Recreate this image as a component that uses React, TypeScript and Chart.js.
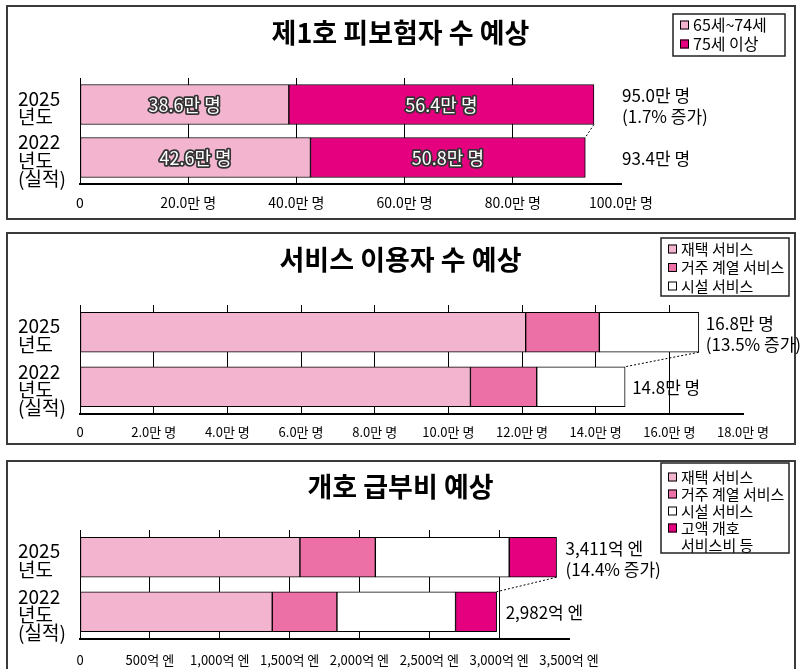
import React, { useEffect, useRef } from "react";
import { Chart, registerables } from "chart.js";

Chart.register(...registerables);

const FONT = '"Noto Sans CJK KR", "Noto Sans", sans-serif';

// ---------- shared ----------
const categories = [["2025", "년도"], ["2022", "년도", "(실적)"]];

const LIGHT = "#F3B4CF";
const MID = "#EC6FA6";
const MAGENTA = "#E4007F";
const WHITE = "#FFFFFF";

// ---------- panel 1 ----------
const p1Title = "제1호 피보험자 수 예상";
const p1Series = ["65세~74세", "75세 이상"];
const p1Age65to74 = [38.6, 42.6];
const p1Age75plus = [56.4, 50.8];
const p1Totals = [["95.0만 명", "(1.7% 증가)"], ["93.4만 명"]];
const p1Max = 100;
const p1Step = 20;

// ---------- panel 2 ----------
const p2Title = "서비스 이용자 수 예상";
const p2Series = ["재택 서비스", "거주 계열 서비스", "시설 서비스"];
const p2Home = [12.1, 10.6];
const p2Residential = [2.0, 1.8];
const p2Facility = [2.7, 2.4];
const p2Totals = [["16.8만 명", "(13.5% 증가)"], ["14.8만 명"]];
const p2Max = 18;
const p2Step = 2;

// ---------- panel 3 ----------
const p3Title = "개호 급부비 예상";
const p3Series = ["재택 서비스", "거주 계열 서비스", "시설 서비스", "고액 개호\n서비스비 등"];
const p3Home = [1574, 1376];
const p3Residential = [540, 463];
const p3Facility = [958, 849];
const p3HighCost = [339, 294];
const p3Totals = [["3,411억 엔", "(14.4% 증가)"], ["2,982억 엔"]];
const p3Max = 3500;
const p3Step = 500;

const manFmt = (v: number) => (v === 0 ? "0" : v.toFixed(1) + "만 명");
const okuFmt = (v: number) => (v === 0 ? "0" : v.toLocaleString("en-US") + "억 엔");

const overlay = {
  id: "overlay",
  afterDraw(chart: any, _args: any, o: any) {
    const ctx = chart.ctx as CanvasRenderingContext2D;
    ctx.save();
    // title
    ctx.fillStyle = "#000";
    ctx.textAlign = "center";
    ctx.textBaseline = "middle";
    ctx.font = `bold ${o.titleSize}px ${FONT}`;
    ctx.fillText(o.title, chart.width / 2, o.titleY);

    // legend box
    const L = o.legend;
    ctx.fillStyle = "#fff";
    ctx.fillRect(L.x, L.y, L.w, L.h);
    ctx.strokeStyle = "#222";
    ctx.lineWidth = 1.5;
    ctx.strokeRect(L.x, L.y, L.w, L.h);
    let ly = L.y + L.first;
    ctx.textAlign = "left";
    ctx.font = `${L.font}px ${FONT}`;
    chart.data.datasets.forEach((ds: any) => {
      const lines = String(ds.label).split("\n");
      ctx.fillStyle = ds.backgroundColor;
      ctx.fillRect(L.x + 7, ly - 4.5, 9, 9);
      ctx.strokeStyle = "#000";
      ctx.lineWidth = 1;
      ctx.strokeRect(L.x + 7.5, ly - 4, 8, 8);
      ctx.fillStyle = "#000";
      lines.forEach((ln, k) => ctx.fillText(ln, L.x + 20, ly + k * L.row));
      ly += lines.length * L.row;
    });

    // segment labels (panel 1)
    if (o.segLabels) {
      ctx.textAlign = "center";
      ctx.font = `${o.segSize}px ${FONT}`;
      ctx.lineJoin = "round";
      chart.data.datasets.forEach((ds: any, i: number) => {
        const meta = chart.getDatasetMeta(i);
        meta.data.forEach((bar: any, j: number) => {
          const txt = manFmt(ds.data[j]);
          const cx = (bar.x + bar.base) / 2;
          ctx.strokeStyle = "#333";
          ctx.lineWidth = 3.5;
          ctx.strokeText(txt, cx, bar.y + 1);
          ctx.fillStyle = "#fff";
          ctx.fillText(txt, cx, bar.y + 1);
        });
      });
    }

    // totals
    const n = chart.data.datasets.length;
    const last = chart.getDatasetMeta(n - 1).data;
    ctx.textAlign = "left";
    ctx.fillStyle = "#000";
    ctx.font = `${o.totalSize}px ${FONT}`;
    o.totals.forEach((lines: string[], j: number) => {
      const bar = last[j];
      const x = o.totalsAtAxisEnd ? chart.scales.x.right + 1 : bar.x + o.totalsGap;
      if (lines.length === 1) {
        ctx.fillText(lines[0], x, bar.y + 1);
      } else {
        ctx.fillText(lines[0], x, bar.y - 9);
        ctx.fillText(lines[1], x, bar.y + 12);
      }
    });

    // dotted connector
    const a = last[0];
    const b = last[1];
    ctx.strokeStyle = "#000";
    ctx.lineWidth = 1;
    ctx.setLineDash([2, 2]);
    ctx.beginPath();
    ctx.moveTo(a.x, a.y + a.height / 2);
    ctx.lineTo(b.x, b.y - b.height / 2);
    ctx.stroke();
    ctx.restore();
  },
};

function makeConfig(p: any) {
  return {
    type: "bar",
    data: {
      labels: categories,
      datasets: p.series.map((s: any) => ({
        label: s.label,
        data: s.data,
        backgroundColor: s.color,
        borderColor: "#000",
        borderWidth: 1,
        borderSkipped: false,
        barThickness: 40,
      })),
    },
    options: {
      indexAxis: "y",
      responsive: false,
      animation: false,
      devicePixelRatio: 1,
      layout: { padding: p.padding },
      plugins: {
        legend: { display: false },
        tooltip: { enabled: false },
        title: { display: false },
        overlay: p.overlay,
      },
      scales: {
        x: {
          stacked: true,
          min: 0,
          max: p.max,
          position: "bottom",
          grid: {
            color: (c: any) => (c.tick && c.tick.value === p.max ? "rgba(0,0,0,0)" : "#000"),
            lineWidth: 1,
            drawTicks: false,
          },
          border: { display: true, color: "#000", width: 2 },
          ticks: {
            stepSize: p.step,
            padding: p.tickPadding,
            color: "#000",
            font: { family: FONT, size: p.tickSize },
            maxRotation: 0,
            autoSkip: false,
            callback: (v: any) => p.fmt(Number(v)),
          },
          afterFit: (s: any) => {
            s.height = 30;
          },
        },
        y: {
          stacked: true,
          position: "left",
          grid: { display: false },
          border: { display: false },
          ticks: {
            crossAlign: "far",
            autoSkip: false,
            padding: 0,
            labelOffset: 3,
            color: "#000",
            font: { family: FONT, size: 19, lineHeight: 0.97 },
          },
          afterFit: (s: any) => {
            s.width = 62;
          },
        },
      },
    },
    plugins: [overlay],
  };
}

const panels = [
  {
    top: 0,
    height: 225,
    frame: { top: 5, height: 215 },
    max: p1Max,
    step: p1Step,
    fmt: manFmt,
    tickSize: 14,
    tickPadding: 10,
    padding: { left: 18, right: 180, top: 78, bottom: 11 },
    series: [
      { label: p1Series[0], data: p1Age65to74, color: LIGHT },
      { label: p1Series[1], data: p1Age75plus, color: MAGENTA },
    ],
    overlay: {
      title: p1Title,
      titleY: 33,
      titleSize: 27,
      legend: { x: 673, y: 14, w: 112, h: 42, first: 11, row: 19, font: 16 },
      segLabels: true,
      segSize: 18,
      totals: p1Totals,
      totalsAtAxisEnd: true,
      totalsGap: 0,
      totalSize: 17,
    },
  },
  {
    top: 225,
    height: 225,
    frame: { top: 232, height: 213 },
    max: p2Max,
    step: p2Step,
    fmt: manFmt,
    tickSize: 13,
    tickPadding: 10,
    padding: { left: 18, right: 58, top: 80, bottom: 6 },
    series: [
      { label: p2Series[0], data: p2Home, color: LIGHT },
      { label: p2Series[1], data: p2Residential, color: MID },
      { label: p2Series[2], data: p2Facility, color: WHITE },
    ],
    overlay: {
      title: p2Title,
      titleY: 35,
      titleSize: 27,
      legend: { x: 661, y: 13, w: 128, h: 58, first: 11, row: 18.5, font: 15 },
      segLabels: false,
      totals: p2Totals,
      totalsAtAxisEnd: false,
      totalsGap: 7,
      totalSize: 17,
    },
  },
  {
    top: 450,
    height: 219,
    frame: { top: 460, height: 220 },
    max: p3Max,
    step: p3Step,
    fmt: okuFmt,
    tickSize: 13,
    tickPadding: 13,
    padding: { left: 18, right: 232, top: 80, bottom: 0 },
    series: [
      { label: p3Series[0], data: p3Home, color: LIGHT },
      { label: p3Series[1], data: p3Residential, color: MID },
      { label: p3Series[2], data: p3Facility, color: WHITE },
      { label: p3Series[3], data: p3HighCost, color: MAGENTA },
    ],
    overlay: {
      title: p3Title,
      titleY: 37,
      titleSize: 27,
      legend: { x: 661, y: 13, w: 128, h: 90, first: 14, row: 17, font: 15 },
      segLabels: false,
      totals: p3Totals,
      totalsAtAxisEnd: false,
      totalsGap: 9,
      totalSize: 17,
    },
  },
];

function Panel({ p }: { p: any }) {
  const ref = useRef<HTMLCanvasElement>(null);
  useEffect(() => {
    const chart = new Chart(ref.current as HTMLCanvasElement, makeConfig(p) as any);
    return () => chart.destroy();
  }, []);
  return (
    <>
      <div
        style={{
          position: "absolute",
          left: 6,
          top: p.frame.top,
          width: 790,
          height: p.frame.height,
          border: "2px solid #3a3a3a",
          boxSizing: "border-box",
          background: "#fff",
        }}
      />
      <canvas
        ref={ref}
        width={801}
        height={p.height}
        style={{ position: "absolute", left: 0, top: p.top, width: 801, height: p.height, display: "block" }}
      />
    </>
  );
}

export default function App() {
  return (
    <div
      style={{
        position: "absolute",
        left: 0,
        top: 0,
        width: 801,
        height: 669,
        overflow: "hidden",
        background: "#fff",
      }}
    >
      {panels.map((p, i) => (
        <Panel key={i} p={p} />
      ))}
    </div>
  );
}
